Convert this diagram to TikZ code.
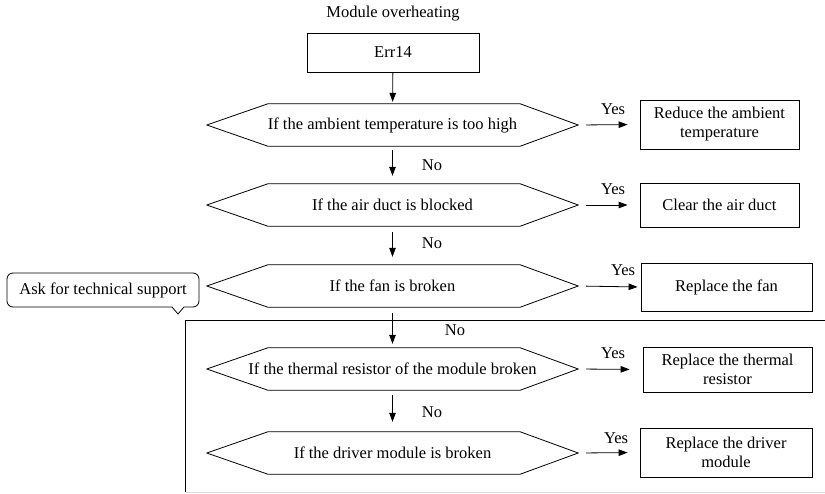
\documentclass[tikz,border=0pt]{standalone}
\usepackage{fontspec}
\setmainfont{Liberation Serif}
\usetikzlibrary{arrows.meta,calc}
\newcommand\hexout[1]{\draw[line width=0.8pt] (#1.west) -- ([xshift=61pt]#1.north west) -- ([xshift=-58pt]#1.north east) -- (#1.east) -- ([xshift=-58pt]#1.south east) -- ([xshift=61pt]#1.south west) -- cycle;}
\begin{document}
\begin{tikzpicture}[x=1pt,y=-1pt,
  every node/.style={font=\fontsize{16.5}{19}\selectfont, inner sep=0pt},
  box/.style={draw, line width=0.8pt, align=center},
  hexn/.style={minimum width=371pt, minimum height=42pt},
  arr/.style={line width=0.8pt, -{Triangle[length=9pt,width=6.5pt]}}]
\useasboundingbox (0,0) rectangle (825,493);

% frame
\draw[line width=0.8pt] (825,320) -- (185,320) -- (185,493);
\draw[line width=0.8pt, gray!25] (185,492) -- (825,492);

\node (title) at (393,14) {Module overheating};
\node[box, minimum width=172pt, minimum height=39pt] (err) at (393,52.5) {Err14};

\node[hexn] (h1) at (392.5,125) {If the ambient temperature is too high};
\node[hexn] (h2) at (392.5,205) {If the air duct is blocked};
\node[hexn] (h3) at (392.5,286) {If the fan is broken};
\node[hexn] (h4) at (392.5,369) {If the thermal resistor of the module broken};
\node[hexn] (h5) at (392.5,453) {If the driver module is broken};
\hexout{h1}\hexout{h2}\hexout{h3}\hexout{h4}\hexout{h5}

\node[box, minimum width=159pt, minimum height=49pt] (b1) at (719.5,124.5) {Reduce the ambient\\temperature};
\node[box, minimum width=159pt, minimum height=44pt] (b2) at (719.5,205) {Clear the air duct};
\node[box, minimum width=171pt, minimum height=48pt] (b3) at (726.5,287) {Replace the fan};
\node[box, minimum width=169pt, minimum height=45pt] (b4) at (727.5,369.5) {Replace the thermal\\resistor};
\node[box, minimum width=172pt, minimum height=49pt] (b5) at (726,452.5) {Replace the driver\\module};

% vertical arrows
\draw[arr, shorten >=2pt] (err) -- (h1);
\draw[arr, shorten <=4pt, shorten >=8pt] (h1) -- (h2);
\draw[arr, shorten <=6pt, shorten >=8pt] (h2) -- (h3);
\draw[arr, shorten <=6pt, shorten >=4pt] (h3) -- (h4);
\draw[arr, shorten <=5pt, shorten >=10pt] (h4) -- (h5);

\node (no1) at (432,165) {No};
\node (no2) at (432,243) {No};
\node (no3) at (455,330) {No};
\node (no4) at (432,412) {No};

% horizontal arrows
\draw[arr, shorten <=8pt, shorten >=12pt] (h1.east) -- (b1.west);
\draw[arr, shorten <=8pt, shorten >=12pt] (h2.east) -- (b2.west);
\draw[arr, shorten <=8pt, shorten >=3pt] (h3.east) -- (b3.west);
\draw[arr, shorten <=8pt, shorten >=13pt] (h4.east) -- (b4.west);
\draw[arr, shorten <=8pt, shorten >=12pt] (h5.east) -- (b5.west);

\node (y1) at (613,109) {Yes};
\node (y2) at (613,189) {Yes};
\node (y3) at (623,270) {Yes};
\node (y4) at (613,353) {Yes};
\node (y5) at (616,438) {Yes};

% callout
\node (ask) at (103,290) {Ask for technical support};
\draw[line width=0.8pt, rounded corners=6pt] (7,290) -- (7,273) -- (199,273) -- (199,307) [sharp corners] -- (184,307) -- (178,314) -- (172,307) [rounded corners=6pt] -- (7,307) -- cycle;
\end{tikzpicture}
\end{document}
